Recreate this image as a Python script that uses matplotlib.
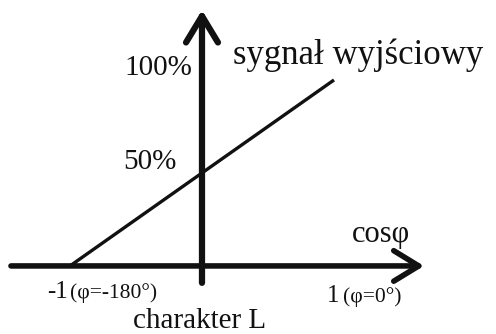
import matplotlib
matplotlib.use('Agg')
import matplotlib.pyplot as plt

plt.rcParams['font.family'] = ['Liberation Serif', 'DejaVu Serif']

# characteristic: output signal vs cos(phi), inductive character
cos_phi = [-1, 1]
signal = [0, 100]   # %
y_ticks = [50, 100]
y_tick_labels = ['50%', '100%']

ink = '#111111'

fig = plt.figure(figsize=(4.96, 3.34), dpi=100)
ax = fig.add_axes([0, 0, 1, 1])
ax.set_xlim(-1.530, 2.227)
ax.set_ylim(-36.6, 143.0)
ax.axis('off')

# axes with open arrow heads
ax.annotate('', xy=(1.682, 0), xytext=(-1.447, 0),
            arrowprops=dict(arrowstyle='->,head_length=1.8,head_width=1.1',
                            lw=4.0, color=ink, mutation_scale=10,
                            shrinkA=0, shrinkB=0))
ax.annotate('', xy=(0, 137.6), xytext=(0, -9.1),
            arrowprops=dict(arrowstyle='->,head_length=1.9,head_width=1.15',
                            lw=4.5, color=ink, mutation_scale=10,
                            shrinkA=0, shrinkB=0))

ax.plot(cos_phi, signal, color=ink, lw=2.4, solid_capstyle='butt')

# y labels
ax.text(-0.076, 106.5, y_tick_labels[1], fontsize=21, ha='right', va='center', color=ink)
ax.text(-0.189, 56.0, y_tick_labels[0], fontsize=21, ha='right', va='center', color=ink)

ax.text(0.235, 113.2, 'sygnał wyjściowy', fontsize=25, ha='left', va='center', color=ink)
ax.text(1.136, 12.9, 'cosφ', fontsize=22, ha='left', va='baseline', color=ink)

# x labels
ax.text(-1.174, -17.2, '-1', fontsize=18, ha='left', va='baseline', color=ink)
ax.text(-1.0, -17.2, '(φ=-180°)', fontsize=15.5, ha='left', va='baseline', color=ink)
ax.text(0.947, -19.4, '1', fontsize=18, ha='left', va='baseline', color=ink)
ax.text(1.068, -19.4, '(φ=0°)', fontsize=15.5, ha='left', va='baseline', color=ink)

ax.text(-0.019, -33.3, 'charakter L', fontsize=21, ha='center', va='baseline', color=ink)

fig.savefig('out.png', dpi=100)
